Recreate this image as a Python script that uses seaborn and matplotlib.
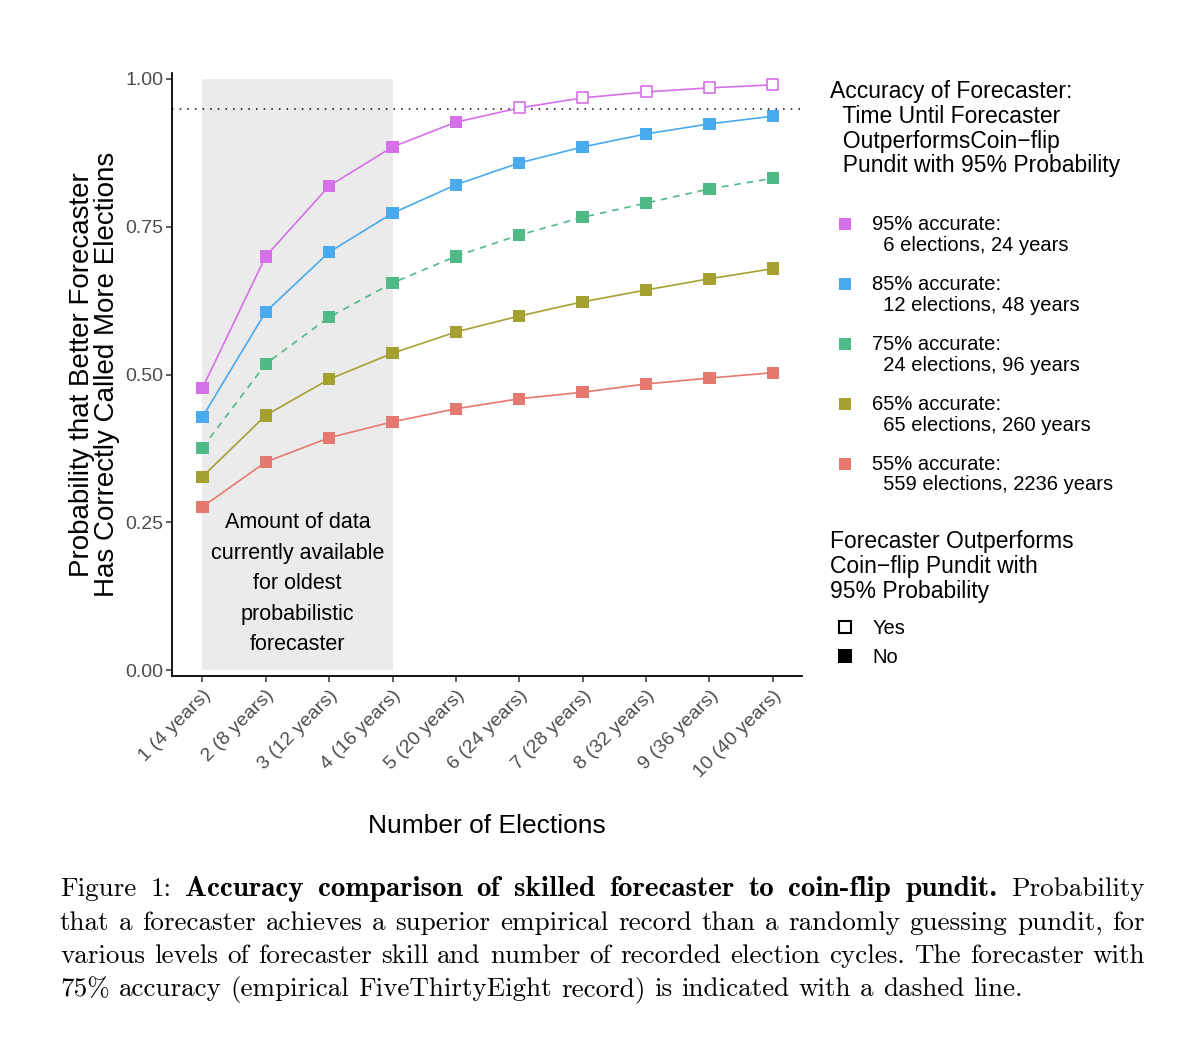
import numpy as np
import pandas as pd
import matplotlib
matplotlib.use("Agg")
import matplotlib.pyplot as plt
import seaborn as sns
from matplotlib.lines import Line2D
from matplotlib.patches import Rectangle
from matplotlib.path import Path

# ------------------------------------------------------------
# Data
# ------------------------------------------------------------

elections = [1, 2, 3, 4, 5, 6, 7, 8, 9, 10]
x_labels = [
    "1 (4 years)", "2 (8 years)", "3 (12 years)", "4 (16 years)",
    "5 (20 years)", "6 (24 years)", "7 (28 years)", "8 (32 years)",
    "9 (36 years)", "10 (40 years)",
]

prob_95 = [0.477, 0.700, 0.819, 0.885, 0.927, 0.951, 0.968, 0.978, 0.985, 0.990]
prob_85 = [0.428, 0.606, 0.707, 0.773, 0.821, 0.858, 0.885, 0.907, 0.924, 0.937]
prob_75 = [0.376, 0.518, 0.597, 0.655, 0.700, 0.736, 0.766, 0.790, 0.814, 0.832]
prob_65 = [0.327, 0.431, 0.492, 0.536, 0.572, 0.599, 0.623, 0.643, 0.662, 0.679]
prob_55 = [0.276, 0.352, 0.393, 0.420, 0.442, 0.459, 0.470, 0.484, 0.494, 0.503]

accuracy_levels = ["95%", "85%", "75%", "65%", "55%"]
accuracy_labels = [
    "95% accurate:\n  6 elections, 24 years",
    "85% accurate:\n  12 elections, 48 years",
    "75% accurate:\n  24 elections, 96 years",
    "65% accurate:\n  65 elections, 260 years",
    "55% accurate:\n  559 elections, 2236 years",
]

THRESHOLD = 0.95
DATA_WINDOW = (1, 4)  # elections of data available for the oldest forecaster

palette = {
    "95%": "#D670E8",
    "85%": "#4AAAEE",
    "75%": "#50BA86",
    "65%": "#A4A131",
    "55%": "#E6796F",
}
dashes = {"95%": "", "85%": "", "75%": (4, 3.5), "65%": "", "55%": ""}

df = pd.DataFrame({
    "elections": elections * 5,
    "prob": prob_95 + prob_85 + prob_75 + prob_65 + prob_55,
    "accuracy": np.repeat(accuracy_levels, len(elections)),
})
df["outperforms"] = df["prob"] >= THRESHOLD

# ------------------------------------------------------------
# Style
# ------------------------------------------------------------

sns.set_style("ticks")
plt.rcParams["font.family"] = ["Liberation Sans", "DejaVu Sans"]
plt.rcParams["text.color"] = "black"
plt.rcParams["axes.labelcolor"] = "black"

GRAY_TXT = "#4D4D4D"

fig = plt.figure(figsize=(12, 10.38), dpi=100)
ax = fig.add_axes([0.1433, 0.349, 0.525, 0.5804])

# shaded region: data currently available
ax.add_patch(Rectangle(
    (DATA_WINDOW[0], 0), DATA_WINDOW[1] - DATA_WINDOW[0], 1,
    facecolor="#EBEBEB", edgecolor="none", zorder=0,
))
ax.text(
    np.mean(DATA_WINDOW), 0.146,
    "Amount of data\ncurrently available\nfor oldest\nprobabilistic\nforecaster",
    ha="center", va="center", fontsize=15.5, linespacing=1.6,
    color="black", zorder=1,
)

ax.axhline(THRESHOLD, color="black", linewidth=1.1, linestyle=(0, (1, 4)), zorder=1)

sns.lineplot(
    data=df, x="elections", y="prob",
    hue="accuracy", style="accuracy",
    hue_order=accuracy_levels, style_order=accuracy_levels,
    palette=palette, dashes=dashes,
    linewidth=1.2, legend=False, ax=ax, zorder=2,
)

sns.scatterplot(
    data=df[~df["outperforms"]], x="elections", y="prob",
    hue="accuracy", hue_order=accuracy_levels, palette=palette,
    marker="s", s=80, linewidth=0, legend=False, ax=ax, zorder=3,
)

sns.scatterplot(
    data=df[df["outperforms"]], x="elections", y="prob",
    hue="accuracy", hue_order=accuracy_levels, palette=palette,
    marker="s", s=62, linewidth=1.2, legend=False, ax=ax, zorder=3,
)
hollow = ax.collections[-1]
hollow.set_edgecolors(hollow.get_facecolors())
hollow.set_facecolors("white")

ax.set_xlim(0.52, 10.46)
ax.set_ylim(-0.0096, 1.0096)
ax.set_yticks([0, 0.25, 0.5, 0.75, 1.0])
ax.set_yticklabels(["0.00", "0.25", "0.50", "0.75", "1.00"])
ax.set_xticks(elections)
ax.set_xticklabels(x_labels, rotation=45, ha="right", va="top", rotation_mode="anchor")

ax.tick_params(axis="both", labelsize=14, labelcolor=GRAY_TXT, color="#333333",
               length=4, width=1.1)
ax.tick_params(axis="y", pad=2)
ax.tick_params(axis="x", pad=4)
for side in ["top", "right"]:
    ax.spines[side].set_visible(False)
for side in ["left", "bottom"]:
    ax.spines[side].set_color("black")
    ax.spines[side].set_linewidth(1.3)

ax.set_xlabel("Number of Elections", fontsize=19, labelpad=24)
ax.set_ylabel("Probability that Better Forecaster\nHas Correctly Called More Elections",
              fontsize=20, labelpad=4, linespacing=0.95)

# ------------------------------------------------------------
# Legends
# ------------------------------------------------------------

# square key raised so it sits beside the first line of a two-line label
a, c = 0.362, 0.638
raised_square = Path([(-a, c - a), (a, c - a), (a, c + a), (-a, c + a), (-a, c - a)],
                     [Path.MOVETO, Path.LINETO, Path.LINETO, Path.LINETO, Path.CLOSEPOLY])

acc_handles = [
    Line2D([], [], marker=raised_square, linestyle="none", markersize=24,
           markerfacecolor=palette[a_], markeredgewidth=0)
    for a_ in accuracy_levels
]
leg1 = fig.legend(
    acc_handles, accuracy_labels,
    title="Accuracy of Forecaster:\n  Time Until Forecaster\n  OutperformsCoin\u2212flip\n  Pundit with 95% Probability",
    loc="upper left", bbox_to_anchor=(830 / 1200, 1 - 80 / 1038),
    frameon=False, borderpad=0, borderaxespad=0, alignment="left",
    title_fontsize=16.5, fontsize=14.5,
    handlelength=1.5, handletextpad=0.6, labelspacing=1.0,
)
for t in leg1.get_texts():
    t.set_linespacing(1.12)
leg1.get_title().set_linespacing(1.1)
leg1._legend_box.sep = 27

yn_handles = [
    Line2D([], [], marker="s", linestyle="none", markersize=9,
           markerfacecolor="white", markeredgecolor="black", markeredgewidth=1.5),
    Line2D([], [], marker="s", linestyle="none", markersize=10,
           markerfacecolor="black", markeredgewidth=0),
]
leg2 = fig.legend(
    yn_handles, ["Yes", "No"],
    title="Forecaster Outperforms\nCoin\u2212flip Pundit with\n95% Probability",
    loc="upper left", bbox_to_anchor=(830 / 1200, 1 - 530 / 1038),
    frameon=False, borderpad=0, borderaxespad=0, alignment="left",
    title_fontsize=16.5, fontsize=14.5,
    handlelength=1.5, handletextpad=0.6, labelspacing=0.5,
)
leg2.get_title().set_linespacing(1.1)
leg2._legend_box.sep = 12

# ------------------------------------------------------------
# Caption (justified, LaTeX-like)
# ------------------------------------------------------------

CAP_SIZE = 19.5
BOLD_SIZE = 21
CAP_LEFT, CAP_RIGHT = 60, 1145
cap_lines = [
    [("Figure 1:", False), ("Accuracy comparison of skilled forecaster to coin-flip pundit.", True),
     ("Probability", False)],
    [("that a forecaster achieves a superior empirical record than a randomly guessing pundit, for", False)],
    [("various levels of forecaster skill and number of recorded election cycles. The forecaster with", False)],
    [("75% accuracy (empirical FiveThirtyEight record) is indicated with a dashed line.", False)],
]
cap_baselines = [896, 930, 963, 996]

renderer = fig.canvas.get_renderer()
W, H = fig.bbox.width, fig.bbox.height


def cap_font(bold):
    if bold:
        return dict(fontsize=BOLD_SIZE, family=["cmb10", "DejaVu Serif"])
    return dict(fontsize=CAP_SIZE, family=["cmr10", "DejaVu Serif"])


def word_width(word, bold):
    t = fig.text(0, 0, word, **cap_font(bold))
    w = t.get_window_extent(renderer).width
    t.remove()
    return w


for i, (segments, y) in enumerate(zip(cap_lines, cap_baselines)):
    words = []
    for text, bold in segments:
        words += [(w, bold) for w in text.split(" ")]
    widths = [word_width(w, b) for w, b in words]
    if i < len(cap_lines) - 1:
        gap = (CAP_RIGHT - CAP_LEFT - sum(widths)) / (len(words) - 1)
    else:
        gap = word_width("a a", False) - 2 * word_width("a", False)
    x = CAP_LEFT
    for (w, b), wd in zip(words, widths):
        fig.text(x / W, 1 - y / H, w, va="baseline", ha="left", **cap_font(b))
        x += wd + gap

fig.savefig("out.png", dpi=100)
